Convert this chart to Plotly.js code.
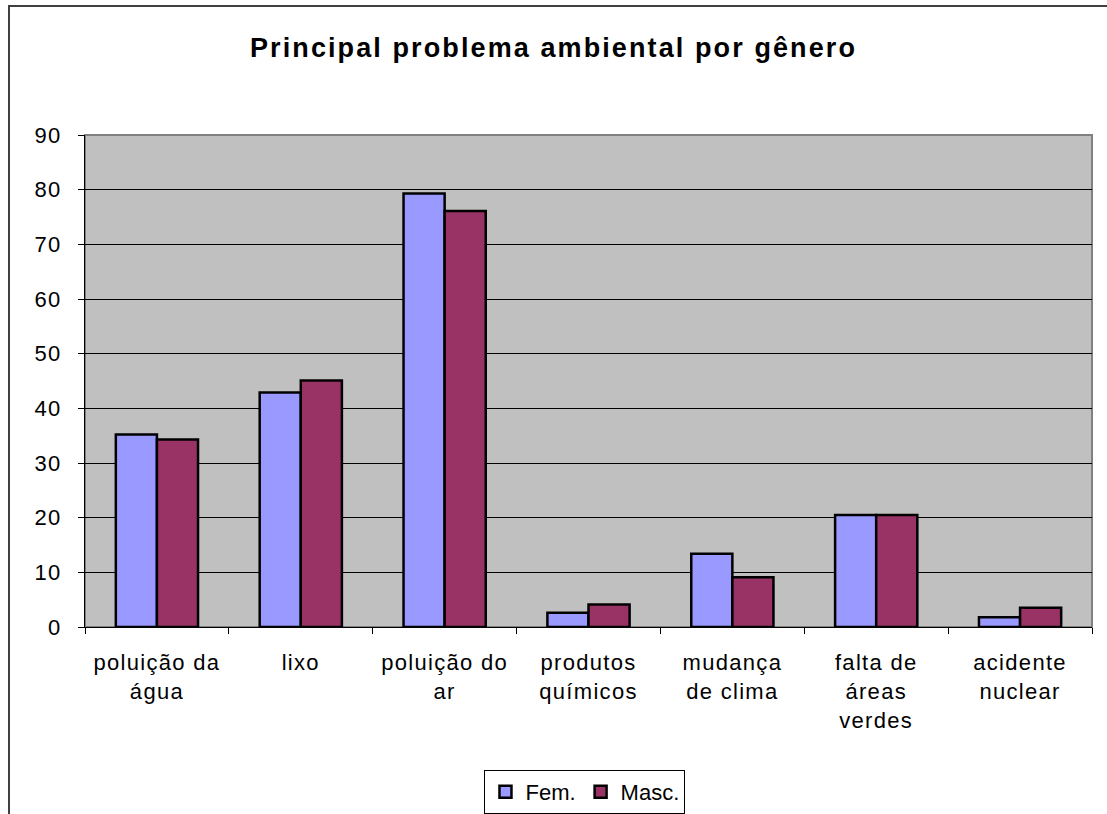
<!DOCTYPE html>
<html>
<head>
<meta charset="utf-8">
<script src="https://cdn.plot.ly/plotly-3.0.1.min.js"></script>
<style>
html,body{margin:0;padding:0;background:#fff;overflow:hidden;}
#frame{position:absolute;left:8px;top:5px;width:1300px;height:1000px;border-top:2px solid #404040;border-left:2px solid #404040;}
#chart{position:absolute;left:0;top:0;width:1107px;height:814px;}
#chart .xtick text, #chart .ytick text {letter-spacing:1.3px;}
#chart .gtitle {letter-spacing:2.1px;}
</style>
</head>
<body>
<div id="frame"></div>
<div id="chart"></div>
<script>
const categories = ["poluição da<br>água", "lixo", "poluição do<br>ar", "produtos<br>químicos", "mudança<br>de clima", "falta de<br>áreas<br>verdes", "acidente<br>nuclear"];
const femValues = [35.2, 42.9, 79.3, 2.6, 13.4, 20.5, 1.8];
const mascValues = [34.3, 45.1, 76.1, 4.1, 9.1, 20.5, 3.5];
const seriesNames = ["Fem.", "Masc."];

const font = "Arial, 'Liberation Sans', sans-serif";

const traces = [
  {type: "bar", name: seriesNames[0], x: categories, y: femValues,
   marker: {color: "#9999FF", line: {color: "#000", width: 2.5}}},
  {type: "bar", name: seriesNames[1], x: categories, y: mascValues,
   marker: {color: "#993366", line: {color: "#000", width: 2.5}}}
];

const layout = {
  width: 1107, height: 814,
  paper_bgcolor: "rgba(0,0,0,0)",
  plot_bgcolor: "#C0C0C0",
  margin: {l: 85, r: 15, t: 135, b: 187},
  barmode: "group",
  bargap: 0.4286,
  bargroupgap: 0,
  showlegend: true,
  title: {text: "<b>Principal problema ambiental por gênero</b>", font: {family: font, size: 27, color: "#000"},
          x: 0.5, xanchor: "center", xref: "container", y: 0.941, yanchor: "middle", yref: "container"},
  font: {family: font, color: "#000"},
  xaxis: {
    type: "category",
    tickson: "boundaries",
    ticks: "outside", ticklen: 6, tickcolor: "#000", tickwidth: 1,
    tickfont: {family: font, size: 22, color: "#000"},
    ticklabelstandoff: 16,
    showline: true, linecolor: "#000", linewidth: 1,
    showgrid: false, mirror: false, automargin: false
  },
  yaxis: {
    range: [0, 90], dtick: 10, tick0: 0,
    ticks: "outside", ticklen: 6, tickcolor: "#000", tickwidth: 1,
    tickfont: {family: font, size: 22, color: "#000"},
    ticklabelstandoff: 12,
    showline: true, linecolor: "#000", linewidth: 1,
    showgrid: true, gridcolor: "#000", gridwidth: 1,
    zeroline: false, automargin: false
  },
  shapes: [
    {type: "rect", xref: "paper", yref: "paper", x0: 0, x1: 1, y0: 0, y1: 1,
     line: {color: "#808080", width: 2}, fillcolor: "rgba(0,0,0,0)", layer: "below"}
  ],
  legend: {
    orientation: "h", x: 0.4965, xanchor: "center", xref: "paper",
    y: 0.054, yanchor: "top", yref: "container",
    bgcolor: "#fff", bordercolor: "#000", borderwidth: 1,
    font: {family: font, size: 22, color: "#000"},
    itemwidth: 30, tracegroupgap: 0
  }
};

Plotly.newPlot("chart", traces, layout, {staticPlot: true, displayModeBar: false});
</script>
</body>
</html>
